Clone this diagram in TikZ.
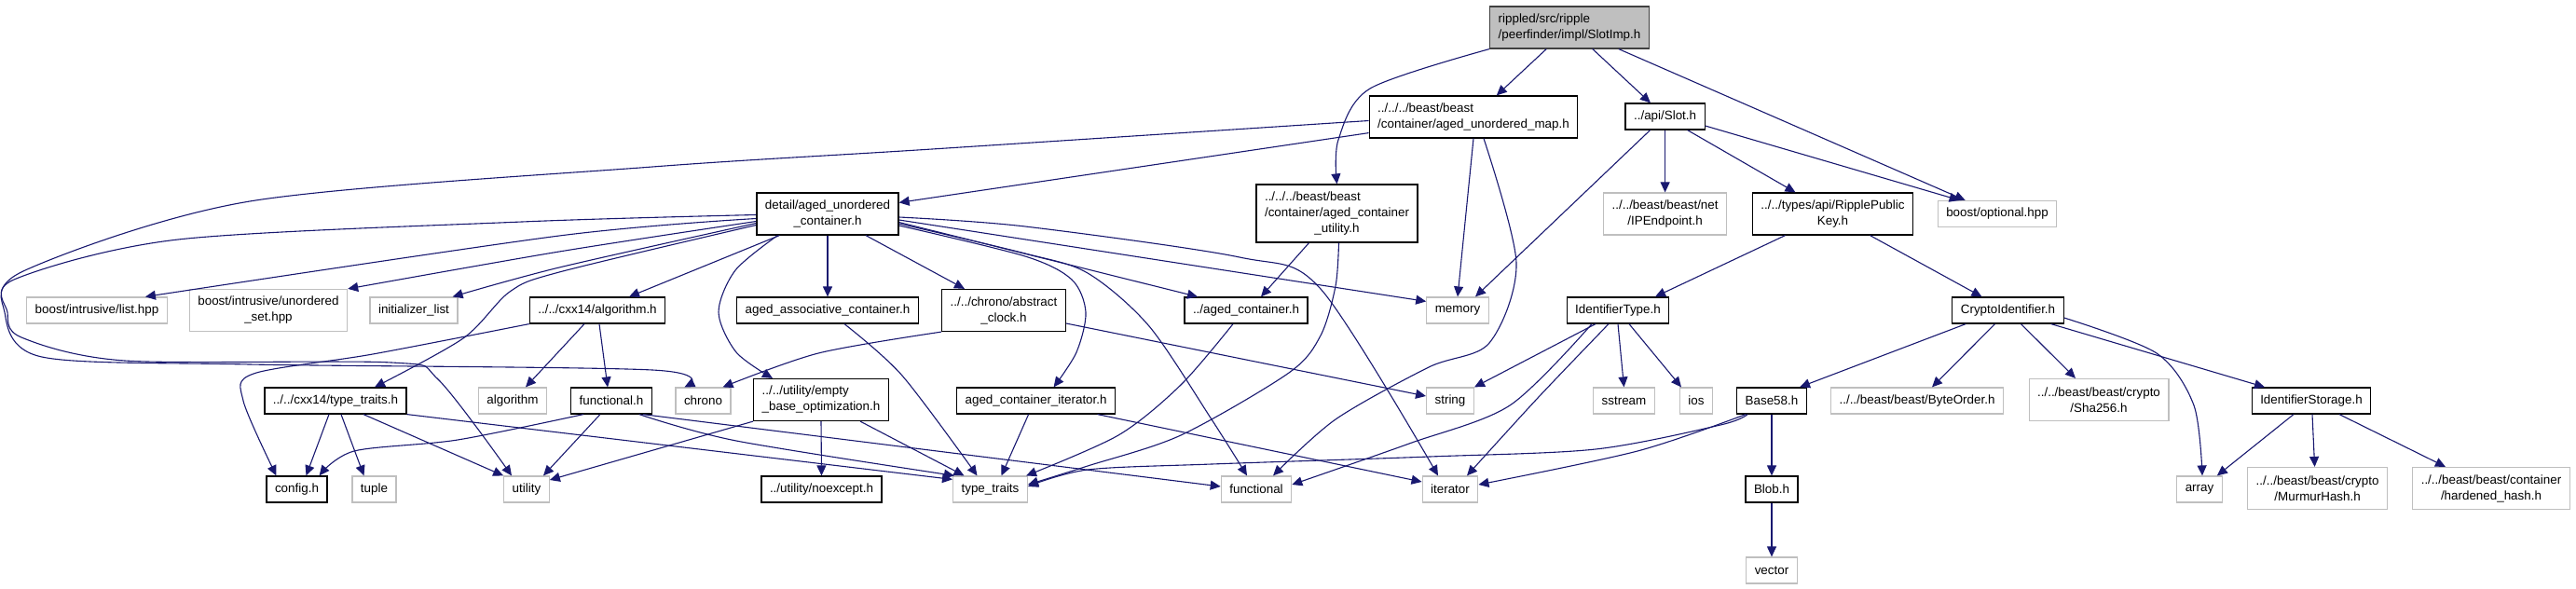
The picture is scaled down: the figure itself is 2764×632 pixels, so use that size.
\documentclass[tikz,border=0pt]{standalone}
\usepackage{fontspec}
\setmainfont{Liberation Sans}
\usetikzlibrary{arrows.meta, calc}

\definecolor{edgeblue}{HTML}{191970}
\definecolor{extgray}{HTML}{BFBFBF}
\definecolor{rootgray}{HTML}{BFBFBF}

\begin{document}
\begin{tikzpicture}[x=0.5pt, y=-0.5pt]
\tikzset{
file/.style={draw=black, line width=0.6pt, inner xsep=4.5pt, inner ysep=2pt, minimum height=14pt,
  font=\fontsize{6.7}{8.5}\selectfont, align=center},
sysfile/.style={file, draw=extgray},
mainfile/.style={file, draw=black!75, fill=rootgray},
twolines/.style={minimum height=22.5pt},
threelines/.style={minimum height=31pt},
dep/.style={draw=edgeblue, line width=0.55pt, -{Triangle[length=5.5pt, width=5pt]}},
smooth
}

	% coordinates (pixels of the doxygen graph, y going down)
	\useasboundingbox (0,0) rectangle (2764,632);

	\node[mainfile, twolines, align=left] at (1684,29.5) (root) {rippled/src/ripple\\/peerfinder/impl/SlotImp.h};

	\node[file, twolines, align=left] at (1581,125.5) (umap) {../../../beast/beast\\/container/aged\_unordered\_map.h};
	\node[file] at (1786.6,125) (slot) {../api/Slot.h};

	\node[file, twolines] at (888,229.5) (detail) {detail/aged\_unordered\\\_container.h};
	\node[file, threelines] at (1434.5,229) (util) {\rlap{../../../beast/beast}\phantom{/container/aged\_container}\\/container/aged\_container\\\_utility.h};
	\node[sysfile, twolines] at (1786.6,229.5) (ipend) {../../beast/beast/net\\/IPEndpoint.h};
	\node[file, twolines] at (1966.5,229.5) (rpk) {../../types/api/RipplePublic\\Key.h};
	\node[sysfile] at (2143,229.5) (optional) {boost/optional.hpp};

	\node[sysfile] at (104,333) (list) {boost/intrusive/list.hpp};
	\node[sysfile, twolines] at (288,333) (uset) {boost/intrusive/unordered\\\_set.hpp};
	\node[sysfile] at (444,333) (initlist) {initializer\_list};
	\node[file] at (641,333) (algoh) {../../cxx14/algorithm.h};
	\node[file] at (888,333) (assoc) {aged\_associative\_container.h};
	\node[file, twolines] at (1077,333) (clock) {../../chrono/abstract\\\_clock.h};
	\node[file] at (1337,333) (agedc) {../aged\_container.h};
	\node[sysfile] at (1564,333) (memory) {memory};
	\node[file] at (1736,333) (idtype) {IdentifierType.h};
	\node[file] at (2154.5,333) (crypto) {CryptoIdentifier.h};

	\node[file] at (360,430) (ttraitsh) {../../cxx14/type\_traits.h};
	\node[sysfile] at (550,430) (algorithm) {algorithm};
	\node[file] at (656,430) (functionalh) {functional.h};
	\node[sysfile] at (754.5,430) (chrono) {chrono};
	\node[file, twolines, align=left] at (881,429) (ebo) {../../utility/empty\\\_base\_optimization.h};
	\node[file] at (1111.6,430) (iter) {aged\_container\_iterator.h};
	\node[sysfile] at (1556,430) (string) {string};
	\node[sysfile] at (1742.5,430) (sstream) {sstream};
	\node[sysfile] at (1820,430) (ios) {ios};
	\node[file] at (1901,430) (base58) {Base58.h};
	\node[sysfile] at (2057,430) (byteorder) {../../beast/beast/ByteOrder.h};
	\node[sysfile, twolines] at (2252,429) (sha) {../../beast/beast/crypto\\/Sha256.h};
	\node[file] at (2480,430) (idstore) {IdentifierStorage.h};

	\node[file] at (318.5,525) (config) {config.h};
	\node[sysfile] at (401.5,525) (tuple) {tuple};
	\node[sysfile] at (565,525) (utility) {utility};
	\node[file] at (881.5,525) (noexcept) {../utility/noexcept.h};
	\node[sysfile] at (1062.5,525) (typetraits) {type\_traits};
	\node[sysfile] at (1348,525) (functional) {functional};
	\node[sysfile] at (1556,525) (iterator) {iterator};
	\node[file] at (1901,525) (blob) {Blob.h};
	\node[sysfile] at (2360,525) (array) {array};
	\node[sysfile, twolines] at (2486.6,524) (murmur) {../../beast/beast/crypto\\/MurmurHash.h};
	\node[sysfile, twolines] at (2673,524) (hardened) {../../beast/beast/container\\/hardened\_hash.h};

	\node[sysfile] at (1901,612) (vector) {vector};

	% SlotImp.h
	\draw[dep] (root) -- (umap);
	\draw[dep] (root) -- (slot);
	\draw[dep] (root) -- ($(optional.north west)+(30,0)$);
	\draw[dep] plot coordinates {(root.south west) (1470,95) (1436,150) (util.north)};

	% aged_unordered_map.h
	\draw[dep] ($(umap.south west)+(0,-6)$) -- ($(detail.north east)+(0,11)$);
	\draw[dep] (umap.south) -- (memory.north);
	\draw[dep] plot coordinates {($(umap.south)+(11,0)$) (1627,282) (1598,368) (1533,394) (1433,450) ($(functional.north)+(18,0)$)};
	\draw[dep] plot coordinates {($(umap.west)+(0,4)$) (1000,160) (700,179) (268,216) (27,290) (5,335) (45,383) (268,391) (700,397) ($(chrono.north west)+(10,0)$)};

	% detail/aged_unordered_container.h
	\draw[dep] plot coordinates {($(detail.west)+(0,1)$) (560,238) (191,257) (15,300) (8,335) (23,362) (134,387) (420,389) (470,407) ($(utility.north)+(-16,0)$)};
	\draw[dep] plot coordinates {($(detail.west)+(0,5)$) (600,253) ($(list.north east)+(-24,0)$)};
	\draw[dep] plot coordinates {($(detail.west)+(0,8)$) (600,270) (uset.north east)};
	\draw[dep] plot coordinates {($(detail.west)+(0,10)$) (600,287) ($(initlist.north east)+(-6,0)$)};
	\draw[dep] plot coordinates {($(detail.west)+(0,12)$) (600,292) (547,313) (497,363) ($(ttraitsh.north)+(42,0)$)};
	\draw[dep] ($(detail.south west)+(25,0)$) -- ($(algoh.north)+(34,0)$);
	\draw[dep] plot coordinates {($(detail.south west)+(23,0)$) (789,290) (771,335) (790,378) ($(ebo.north)+(-52,0)$)};
	\draw[dep] (detail.south) -- (assoc.north);
	\draw[dep] ($(detail.south)+(41,0)$) -- ($(clock.north)+(-42,0)$);
	\draw[dep] plot coordinates {($(detail.east)+(0,3.5)$) (1100,243) (1330,276) (1417,310) ($(iterator.north)+(-13,0)$)};
	\draw[dep] ($(detail.east)+(0,6.5)$) -- ($(memory.north west)+(0,5)$);
	\draw[dep] ($(detail.east)+(0,9)$) -- ($(agedc.north)+(-52,0)$);
	\draw[dep] plot coordinates {($(detail.east)+(0,10.5)$) (1100,272) (1167,293) (1233,350) (1300,450) ($(functional.north)+(-10,0)$)};
	\draw[dep] plot coordinates {($(detail.east)+(0,12.5)$) (1100,275) (1150,300) (1165,335) (1155,378) ($(iter.north)+(19,0)$)};

	% ../../chrono/abstract_clock.h
	\draw[dep] plot coordinates {(clock.south west) (878,379) ($(chrono.north)+(21,0)$)};
	\draw[dep] ($(clock.east)+(0,14)$) -- ($(string.west)+(0,-5)$);

	% aged_container_iterator.h, ../aged_container.h, aged_container_utility.h
	\draw[dep] ($(iter.south)+(-8,0)$) -- ($(typetraits.north)+(12,0)$);
	\draw[dep] ($(iter.south)+(66,0)$) -- ($(iterator.west)+(0,-8)$);
	\draw[dep] plot coordinates {($(agedc.south)+(-14,0)$) (1267,413) (1200,467) ($(typetraits.north east)+(-2,0)$)};
	\draw[dep] ($(util.south)+(-30,0)$) -- ($(agedc.north)+(16,0)$);
	\draw[dep] plot coordinates {($(util.south)+(2,0)$) (1433,307) (1417,360) (1383,400) (1267,467) (1167,500) ($(typetraits.east)+(0,-5)$)};

	% empty_base_optimization.h, aged_associative_container.h
	\draw[dep] (ebo.south west) -- ($(utility.east)+(0,-10)$);
	\draw[dep] (ebo.south) -- (noexcept.north);
	\draw[dep] ($(ebo.south)+(42,0)$) -- ($(typetraits.north)+(-28,0)$);
	\draw[dep] plot coordinates {($(assoc.south)+(18,0)$) (968,403) ($(typetraits.north)+(-14,0)$)};

	% cxx14 headers
	\draw[dep] plot coordinates {(algoh.south west) (400,380) (272,401) (261,430) ($(config.north)+(-22,0)$)};
	\draw[dep] ($(algoh.south)+(-14,0)$) -- ($(algorithm.north)+(14,0)$);
	\draw[dep] ($(algoh.south)+(2,0)$) -- ($(functionalh.north)+(-4,0)$);
	\draw[dep] ($(ttraitsh.south)+(-7,0)$) -- ($(config.north)+(10,0)$);
	\draw[dep] ($(ttraitsh.south)+(6,0)$) -- ($(tuple.north)+(-11,0)$);
	\draw[dep] ($(ttraitsh.south)+(30,0)$) -- (utility.north west);
	\draw[dep] (ttraitsh.south east) -- ($(typetraits.north west)+(0,4)$);
	\draw[dep] plot coordinates {($(functionalh.south)+(-30,0)$) (491,472) (380,484) ($(config.north east)+(-9,0)$)};
	\draw[dep] ($(functionalh.south)+(-12,0)$) -- ($(utility.north)+(18,0)$);
	\draw[dep] plot coordinates {($(functionalh.south east)+(-14,0)$) (790,473) ($(typetraits.north west)+(2,0)$)};
	\draw[dep] ($(functionalh.south east)+(-10,0)$) -- ($(functional.west)+(0,-3)$);

	% ../api/Slot.h and below
	\draw[dep] ($(slot.south)+(-16,0)$) -- ($(memory.north)+(19,0)$);
	\draw[dep] (slot.south) -- (ipend.north);
	\draw[dep] ($(slot.south)+(24,0)$) -- ($(rpk.north)+(-40,0)$);
	\draw[dep] ($(slot.east)+(0,10)$) -- ($(optional.north west)+(24,0)$);
	\draw[dep] ($(rpk.south)+(-51,0)$) -- ($(idtype.north)+(40,0)$);
	\draw[dep] ($(rpk.south)+(40,0)$) -- ($(crypto.north)+(-28,0)$);

	% IdentifierType.h
	\draw[dep] ($(idtype.south)+(-24,0)$) -- (string.north east);
	\draw[dep] plot coordinates {($(idtype.south)+(-28,0)$) (1620,435) (1512,476) ($(functional.east)+(0,-5)$)};
	\draw[dep] plot coordinates {($(idtype.south)+(-10,0)$) (1650,427) ($(iterator.north)+(18,0)$)};
	\draw[dep] (idtype.south) -- (sstream.north);
	\draw[dep] ($(idtype.south)+(12,0)$) -- ($(ios.north)+(-16,0)$);

	% CryptoIdentifier.h
	\draw[dep] ($(crypto.south west)+(15,0)$) -- ($(base58.north)+(30,0)$);
	\draw[dep] ($(crypto.south)+(-14,0)$) -- ($(byteorder.north)+(16,0)$);
	\draw[dep] ($(crypto.south)+(14,0)$) -- ($(sha.north)+(-25,0)$);
	\draw[dep] ($(crypto.south east)+(-14,0)$) -- ($(idstore.north)+(-50,0)$);
	\draw[dep] plot coordinates {($(crypto.east)+(0,8)$) (2314,379) (2354,435) ($(array.north)+(3,0)$)};
	\draw[dep] ($(idstore.south)+(-19,0)$) -- ($(array.north east)+(-6,0)$);
	\draw[dep] ($(idstore.south)+(1,0)$) -- ($(murmur.north)+(-3,0)$);
	\draw[dep] ($(idstore.south)+(30,0)$) -- ($(hardened.north)+(-49,0)$);

	% Base58.h
	\draw[dep] plot coordinates {($(base58.south west)+(12,0)$) (1846,456) (1712,482) (1534,490) (1300,498) (1167,504) ($(typetraits.east)+(0,-3)$)};
	\draw[dep] plot coordinates {($(base58.south west)+(10,0)$) (1757,484) ($(iterator.east)+(0,-5)$)};
	\draw[dep] (base58) -- (blob);
	\draw[dep] (blob) -- (vector);

\end{tikzpicture}
\end{document}
